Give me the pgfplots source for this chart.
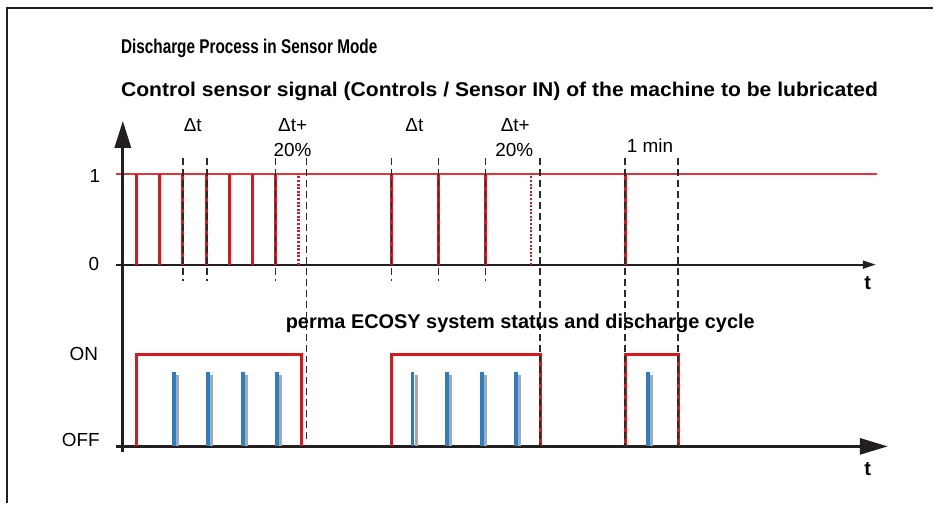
\documentclass[border=0pt]{standalone}
\usepackage{pgfplots}
\pgfplotsset{compat=1.18}
\usepackage{fontspec}
\setmainfont{Liberation Sans}
\usetikzlibrary{arrows.meta}
\definecolor{sred}{HTML}{D7191F}
\definecolor{lred}{HTML}{E5333D}
\definecolor{sblue}{HTML}{2A7FC4}
\definecolor{sgray}{HTML}{A7A9AC}
\definecolor{sdark}{HTML}{231F20}
\definecolor{sdash}{HTML}{2A2A2A}
\begin{document}
\begin{tikzpicture}
\begin{axis}[width=934bp,height=504bp,scale only axis,
  xmin=0,xmax=934,ymin=0,ymax=504,y dir=reverse,
  hide axis,clip=false,unbounded coords=jump]
\path (axis cs:0,0) rectangle (axis cs:934,504);
% frame
\addplot[sdark,line width=2.6bp] coordinates {(7,504)(7,8)(934,8)};
% level 1 reference line
\addplot[lred,line width=1.7bp] coordinates {(116,174)(878,174)};
% top time axis
\addplot[sdark,line width=1.8bp,-{Triangle[length=13bp,width=8bp]}] coordinates {(116,265)(877,265)};
% bottom time axis
\addplot[sdark,line width=3bp,-{Triangle[length=28bp,width=16bp]}] coordinates {(116,447)(889,447)};
% vertical axis
\addplot[sdark,line width=3bp,-{Triangle[length=27bp,width=16bp]}] coordinates {(123,453)(123,121)};
% sensor pulses
\addplot[sred,line width=3.2bp] coordinates {
(137,265)(137,174)(137,nan)
(160,265)(160,174)(160,nan)
(183,265)(183,174)(183,nan)
(207,265)(207,174)(207,nan)
(230,265)(230,174)(230,nan)
(253,265)(253,174)(253,nan)
(276,265)(276,174)(276,nan)
(392,265)(392,174)(392,nan)
(439,265)(439,174)(439,nan)
(486,265)(486,174)(486,nan)
(626,265)(626,174)};
% missing pulses (dotted)
\addplot[sred,line width=2.4bp,dash pattern=on 2bp off 1.6bp] coordinates {
(299,265)(299,174)(299,nan)
(532,265)(532,174)};
% system status (ON/OFF)
\addplot[sred,line width=3bp] coordinates {
(137,447)(137,355)(302,355)(302,447)(302,nan)
(392,447)(392,355)(541,355)(541,447)(541,nan)
(626,447)(626,355)(679,355)(679,447)};
% discharge pulses
\addplot[sgray,line width=3bp] coordinates {
(177.6,447)(177.6,376)(177.6,nan)
(211.6,447)(211.6,376)(211.6,nan)
(246.6,447)(246.6,376)(246.6,nan)
(280.6,447)(280.6,376)(280.6,nan)
(416.6,447)(416.6,376)(416.6,nan)
(451.6,447)(451.6,376)(451.6,nan)
(486.6,447)(486.6,376)(486.6,nan)
(520.6,447)(520.6,376)(520.6,nan)
(652.6,447)(652.6,376)};
\addplot[sblue,line width=3.8bp] coordinates {
(174,447)(174,373)(174,nan)
(208,447)(208,373)(208,nan)
(243,447)(243,373)(243,nan)
(277,447)(277,373)(277,nan)
(413,447)(413,373)(413,nan)
(448,447)(448,373)(448,nan)
(483,447)(483,373)(483,nan)
(517,447)(517,373)(517,nan)
(649,447)(649,373)};
% dashed markers
\addplot[sdash,line width=1.6bp,dash pattern=on 7bp off 4bp] coordinates {
(183,158)(183,281)(183,nan)
(207,158)(207,281)(207,nan)
(276,158)(276,281)(276,nan)
(392,158)(392,281)(392,nan)
(439,158)(439,281)(439,nan)
(486,158)(486,281)(486,nan)
(307,158)(307,444)(307,nan)
(541,158)(541,447)(541,nan)
(626,158)(626,449)(626,nan)
(679,158)(679,447)};
% labels
\node[font=\fontsize{19}{22}\selectfont] at (axis cs:95,176) {1};
\node[font=\fontsize{19}{22}\selectfont] at (axis cs:94,264) {0};
\node[font=\fontsize{19}{22}\selectfont] at (axis cs:84,354) {ON};
\node[font=\fontsize{19}{22}\selectfont] at (axis cs:81,441) {OFF};
\node[font=\bfseries\fontsize{20}{22}\selectfont] at (axis cs:869,283) {t};
\node[font=\bfseries\fontsize{20}{22}\selectfont] at (axis cs:869,470) {t};
\node[font=\fontsize{19}{22}\selectfont] at (axis cs:193,125) {Δt};
\node[font=\fontsize{19}{22}\selectfont] at (axis cs:293,125) {Δt+};
\node[font=\fontsize{19}{22}\selectfont] at (axis cs:293,150) {20\%};
\node[font=\fontsize{19}{22}\selectfont] at (axis cs:415,125) {Δt};
\node[font=\fontsize{19}{22}\selectfont] at (axis cs:516,125) {Δt+};
\node[font=\fontsize{19}{22}\selectfont] at (axis cs:515,150) {20\%};
\node[font=\fontsize{19}{22}\selectfont] at (axis cs:651,146) {1 min};
\node[anchor=west,inner sep=0pt,font=\bfseries\fontsize{20}{22}\selectfont] at (axis cs:121,48) {\scalebox{0.77}[1]{Discharge Process in Sensor Mode}};
\node[anchor=west,inner sep=0pt,font=\bfseries\fontsize{20}{22}\selectfont] at (axis cs:121,92) {\scalebox{1.06}[1]{Control sensor signal (Controls / Sensor IN) of the machine to be lubricated}};
\node[font=\bfseries\fontsize{20}{22}\selectfont] at (axis cs:521,324) {perma ECOSY system status and discharge cycle};
\end{axis}
\end{tikzpicture}
\end{document}
